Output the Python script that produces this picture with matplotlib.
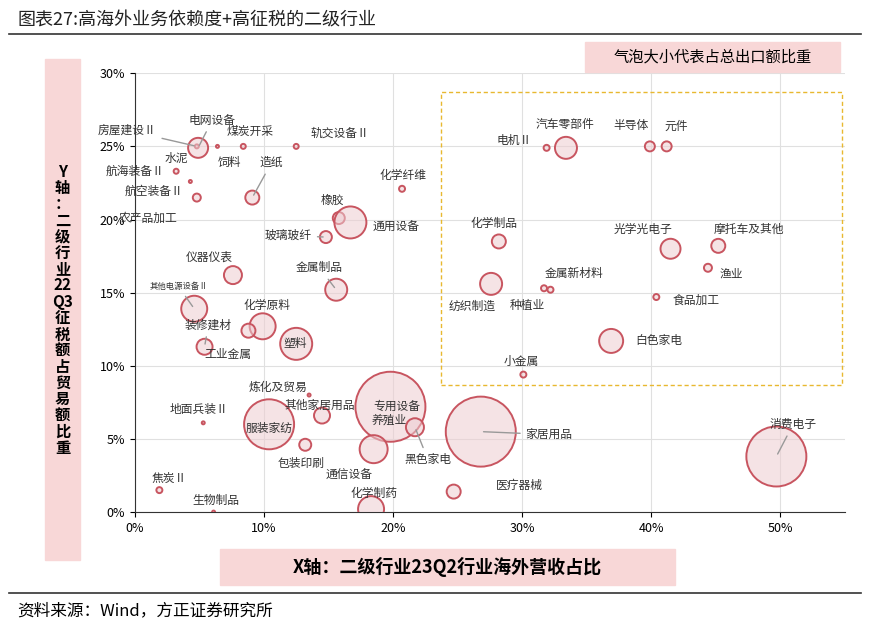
import matplotlib.pyplot as plt
from matplotlib.patches import Rectangle

plt.rcParams['font.family'] = ['Noto Sans CJK SC', 'DejaVu Sans']

# 行业, x(海外营收占比%), y(征税额占贸易额%), 气泡半径(px)
names = ['房屋建设Ⅱ', '电网设备', '煤炭开采', '饲料', '轨交设备Ⅱ', '水泥', '航海装备Ⅱ', '航空装备Ⅱ',
         '造纸', '化学纤维', '橡胶', '通用设备', '玻璃玻纤', '仪器仪表', '金属制品', '其他电源设备Ⅱ',
         '化学原料', '农产品加工', '装修建材', '塑料', '炼化及贸易', '地面兵装Ⅱ', '服装家纺', '其他家居用品',
         '包装印刷', '专用设备', '黑色家电', '通信设备', '化学制药', '焦炭Ⅱ', '生物制品',
         '家居用品', '医疗器械', '消费电子', '小金属', '白色家电', '纺织制造', '种植业', '金属新材料',
         '化学制品', '食品加工', '光学光电子', '渔业', '摩托车及其他', '汽车零部件', '电机Ⅱ', '半导体', '元件']
xs = [4.8, 4.9, 8.4, 6.4, 12.5, 4.3, 3.2, 4.8,
      9.1, 20.7, 15.8, 16.7, 14.8, 7.6, 15.6, 4.6,
      9.9, 8.8, 5.4, 12.5, 13.5, 5.3, 10.4, 14.5,
      13.2, 19.8, 21.7, 18.5, 18.3, 1.9, 6.1,
      26.8, 24.7, 49.7, 30.1, 36.9, 27.6, 31.7, 32.2,
      28.2, 40.4, 41.5, 44.4, 45.2, 33.4, 31.9, 39.9, 41.2]
ys = [25.0, 24.9, 25.0, 25.0, 25.0, 22.6, 23.3, 21.5,
      21.5, 22.1, 20.1, 19.8, 18.8, 16.2, 15.2, 13.9,
      12.7, 12.4, 11.3, 11.5, 8.0, 6.1, 6.0, 6.6,
      4.6, 7.2, 5.8, 4.3, 0.2, 1.5, 0.0,
      5.5, 1.4, 3.8, 9.4, 11.7, 15.6, 15.3, 15.2,
      18.5, 14.7, 18.0, 16.7, 18.2, 24.9, 24.9, 25.0, 25.0]
radii = [2, 10, 2.5, 1.5, 2.5, 1.5, 2.5, 4,
         7, 3, 6, 16, 6, 9, 11, 13,
         13, 7, 8, 16, 1.5, 1.5, 25, 8,
         6, 35, 9, 14, 13, 3, 1.5,
         35, 7, 30, 3, 12, 11, 3, 3,
         7, 3, 10, 4, 7, 11, 3, 5, 5]
# 标签位置 (数据坐标) 和是否有引线
label_pos = [(-0.6, 26.1, 1), (6.0, 26.8, 1), (8.9, 26.0, 0), (7.3, 23.9, 0), (15.9, 25.9, 0),
             (3.2, 24.2, 0), (0.0, 23.3, 0), (1.5, 21.9, 0), (10.6, 23.9, 1), (20.8, 23.0, 0),
             (15.3, 21.3, 0), (20.2, 19.5, 0), (11.9, 18.9, 1), (5.8, 17.4, 0), (14.3, 16.7, 1),
             (3.4, 15.4, 1), (10.2, 14.1, 0), (1.0, 20.1, 0), (5.7, 12.8, 1), (12.4, 11.5, 0),
             (11.1, 8.5, 0), (5.0, 7.0, 0), (10.4, 5.7, 0), (14.3, 7.3, 0), (12.9, 3.3, 0),
             (20.3, 7.2, 0), (22.7, 3.6, 1), (16.6, 2.5, 0), (18.5, 1.3, 0), (2.7, 2.3, 0),
             (6.3, 0.8, 0), (32.1, 5.3, 1), (29.8, 1.8, 0), (51.0, 6.0, 1), (29.9, 10.3, 0),
             (40.6, 11.7, 0), (26.1, 14.1, 0), (30.4, 14.1, 0), (34.0, 16.3, 0), (27.8, 19.7, 0),
             (43.5, 14.5, 0), (39.4, 19.3, 0), (46.2, 16.3, 0), (47.6, 19.3, 0), (33.3, 26.5, 0),
             (29.4, 25.4, 0), (38.4, 26.4, 0), (41.9, 26.4, 0)]
extra_labels = [('工业金属', 7.2, 10.8), ('养殖业', 19.7, 6.3)]

fig = plt.figure(figsize=(8.7, 6.26), dpi=100)
ax = fig.add_axes([0.155, 0.182, 0.816, 0.701])

sizes = [(2 * r * 0.72) ** 2 for r in radii]
ax.scatter(xs, ys, s=sizes, facecolor=(0.93, 0.80, 0.82, 0.55), edgecolor='#C85560', linewidth=1.4, zorder=3)

for n, x, y, (lx, ly, line) in zip(names, xs, ys, label_pos):
    fs = 6 if n == '其他电源设备Ⅱ' else 8.5
    if line:
        ax.annotate(n, (x, y), xytext=(lx, ly), ha='center', va='center', fontsize=fs, color='#333333',
                    arrowprops=dict(arrowstyle='-', color='#999999', lw=1), zorder=4)
    else:
        ax.text(lx, ly, n, ha='center', va='center', fontsize=fs, color='#333333', zorder=4)
for n, lx, ly in extra_labels:
    ax.text(lx, ly, n, ha='center', va='center', fontsize=8.5, color='#333333', zorder=4)

ax.add_patch(Rectangle((23.7, 8.7), 31.1, 20.0, fill=False, ec='#E8B830', ls=(0, (3, 2)), lw=1, zorder=2))

ax.set_xlim(0, 55)
ax.set_ylim(0, 30)
ax.set_xticks(range(0, 51, 10))
ax.set_xticklabels([f'{v}%' for v in range(0, 51, 10)], fontsize=9)
ax.set_yticks(range(0, 31, 5))
ax.set_yticklabels([f'{v}%' for v in range(0, 31, 5)], fontsize=9)
ax.grid(color='#E0E0E0', lw=0.8, zorder=0)
for s in ['top', 'right']:
    ax.spines[s].set_visible(False)
ax.spines['left'].set_color('#333333')
ax.spines['bottom'].set_color('#333333')

pink = '#F8D7D7'
fig.text(0.02, 0.967, '图表27:高海外业务依赖度+高征税的二级行业', fontsize=13, va='center', color='#222222')
fig.add_artist(plt.Line2D([0.01, 0.99], [0.945, 0.945], color='#333333', lw=1.2))
fig.add_artist(Rectangle((0.672, 0.885), 0.294, 0.048, color=pink, transform=fig.transFigure))
fig.text(0.819, 0.909, '气泡大小代表占总出口额比重', fontsize=11, ha='center', va='center')
fig.add_artist(Rectangle((0.052, 0.105), 0.040, 0.80, color=pink, transform=fig.transFigure))
fig.text(0.072, 0.505, 'Y\n轴\n：\n二\n级\n行\n业\n22\nQ3\n征\n税\n额\n占\n贸\n易\n额\n比\n重',
         fontsize=11, fontweight='bold', ha='center', va='center', linespacing=1.02)
fig.add_artist(Rectangle((0.253, 0.065), 0.523, 0.058, color=pink, transform=fig.transFigure))
fig.text(0.514, 0.094, 'X轴：二级行业23Q2行业海外营收占比', fontsize=13, fontweight='bold', ha='center', va='center')
fig.add_artist(plt.Line2D([0.01, 0.99], [0.052, 0.052], color='#333333', lw=1.2))
fig.text(0.02, 0.025, '资料来源：Wind，方正证券研究所', fontsize=12, style='italic', va='center')

fig.savefig('out.png', dpi=100)
